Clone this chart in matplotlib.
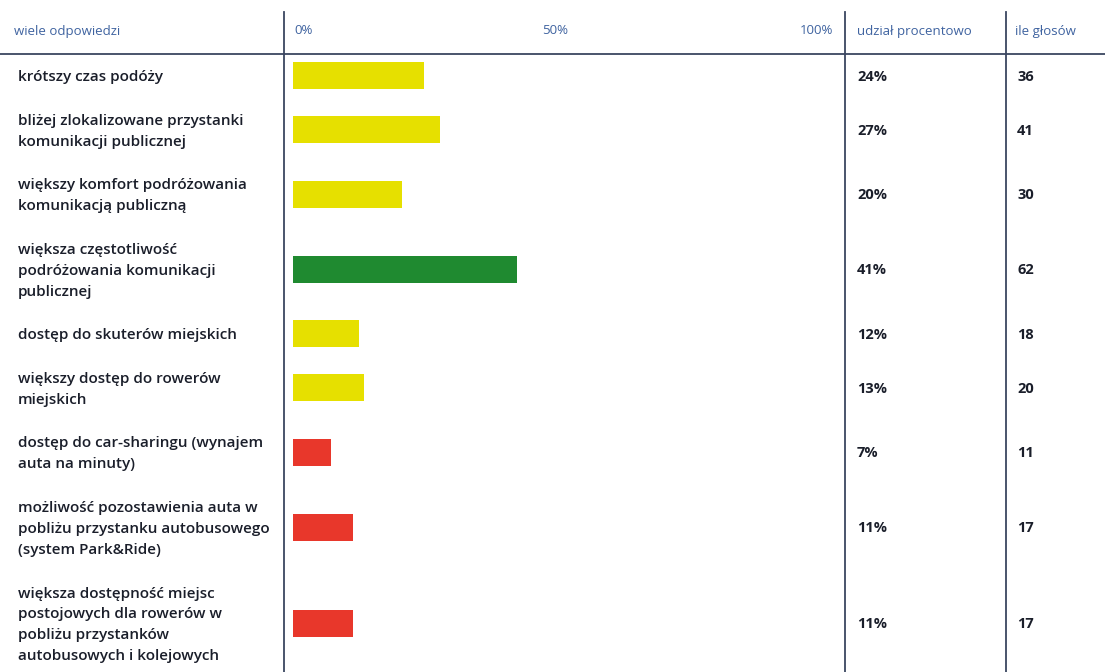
import matplotlib.pyplot as plt
import numpy as np
from matplotlib.lines import Line2D
from matplotlib.transforms import blended_transform_factory

plt.rcParams['font.family'] = ['Open Sans', 'DejaVu Sans']

labels = [
    'krótszy czas podóży',
    'bliżej zlokalizowane przystanki\nkomunikacji publicznej',
    'większy komfort podróżowania\nkomunikacją publiczną',
    'większa częstotliwość\npodróżowania komunikacji\npublicznej',
    'dostęp do skuterów miejskich',
    'większy dostęp do rowerów\nmiejskich',
    'dostęp do car-sharingu (wynajem\nauta na minuty)',
    'możliwość pozostawienia auta w\npobliżu przystanku autobusowego\n(system Park&Ride)',
    'większa dostępność miejsc\npostojowych dla rowerów w\npobliżu przystanków\nautobusowych i kolejowych',
]
percent = [24, 27, 20, 41, 12, 13, 7, 11, 11]
votes = [36, 41, 30, 62, 18, 20, 11, 17, 17]
colors = ['#e6e000', '#e6e000', '#e6e000', '#1f8a30', '#e6e000', '#e6e000',
          '#e8372b', '#e8372b', '#e8372b']
headers = ['wiele odpowiedzi', 'udział procentowo', 'ile głosów']
scale_ticks = ['0%', '50%', '100%']

W, H = 1105, 672
text_col = '#1a1e2a'
head_col = '#3f63a0'
line_col = '#3a4660'

fig = plt.figure(figsize=(W / 100, H / 100), dpi=100)
fig.patch.set_facecolor('white')

# bar column, y measured in pixels below the header line
ax = fig.add_axes([284 / W, 0, (845 - 284) / W, (H - 54) / H])
ax.set_xlim(-1.65, 101.1)
ax.set_ylim(H - 54, 0)
ax.axis('off')

nlines = np.array([lab.count('\n') + 1 for lab in labels])
row_h = 22.5 + 21 * nlines
centers = np.cumsum(row_h) - row_h / 2

ax.barh(centers, percent, height=27, color=colors)

tr = blended_transform_factory(fig.transFigure, ax.transData)
for c, lab, p, v in zip(centers, labels, percent, votes):
    ax.text(18 / W, c + 1.5, lab, transform=tr, va='center', ha='left',
            fontsize=11, color=text_col, fontweight='semibold', linespacing=1.62)
    ax.text(857 / W, c + 1, f'{p}%', transform=tr, va='center', ha='left',
            fontsize=10.5, color=text_col, fontweight='bold')
    ax.text(1017 / W, c + 1, f'{v}', transform=tr, va='center', ha='left',
            fontsize=10.5, color=text_col, fontweight='bold')

# header row
hy = 1 - 31 / H
htr = blended_transform_factory(ax.transData, fig.transFigure)
fig.text(14 / W, hy, headers[0], fontsize=9.5, color=head_col, va='center')
fig.text(857 / W, hy, headers[1], fontsize=9.5, color=head_col, va='center')
fig.text(1015 / W, hy, headers[2], fontsize=9.5, color=head_col, va='center')
ax.text(0.3, hy, scale_ticks[0], transform=htr, fontsize=9.5, color=head_col,
        va='center', ha='left')
ax.text(48, hy, scale_ticks[1], transform=htr, fontsize=9.5, color=head_col,
        va='center', ha='center')
ax.text(99, hy, scale_ticks[2], transform=htr, fontsize=9.5, color=head_col,
        va='center', ha='right')

# grid lines
fig.add_artist(Line2D([0, 1], [1 - 54 / H] * 2, color=line_col, lw=1.3))
for xp in [284, 845, 1006]:
    fig.add_artist(Line2D([xp / W] * 2, [0, 1 - 12 / H], color=line_col, lw=1.3))

fig.savefig('out.png', dpi=100)
